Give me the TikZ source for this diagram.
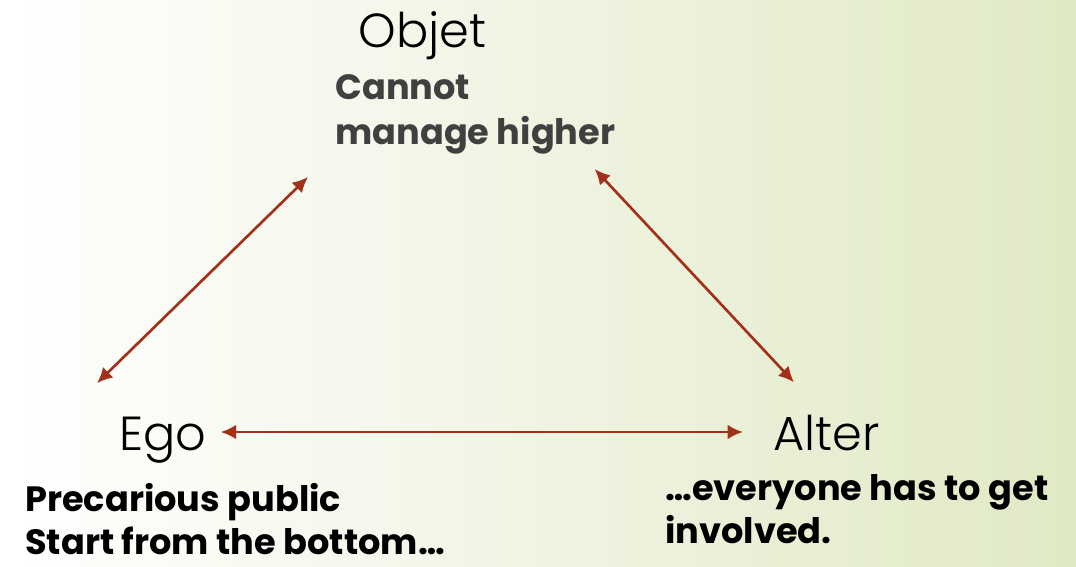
\documentclass[tikz,border=0pt]{standalone}
\usepackage{fontspec}
\usepackage{tikz}
\usetikzlibrary{arrows.meta}
\setmainfont{Poppins}
\newfontfamily\lightfont{Poppins Light}
\definecolor{FontColor}{HTML}{000000}
\definecolor{GrayFont}{HTML}{404040}
\definecolor{ArrowRed}{HTML}{A3311A}
\definecolor{BgGreen}{HTML}{E0E9C5}
\newcommand\nodeobjet{Objet}
\newcommand\nodeego{Ego}
\newcommand\nodealter{Alter}
\newcommand\notecannot{Cannot\\manage higher}
\newcommand\noteprec{Precarious public\\Start from the bottom…}
\newcommand\noteevery{…everyone has to get\\involved.}
\tikzstyle{mynodestyle} = [inner sep=0pt, anchor=base west, text=FontColor]
\tikzstyle{pole} = [mynodestyle, font=\lightfont\fontsize{34}{40}\selectfont]
\tikzstyle{note} = [mynodestyle, align=left, font=\bfseries\fontsize{25}{30}\selectfont]
\tikzset{>={Latex[length=11pt,width=10.5pt]}, every picture/.style={line width=1.9pt}}

\begin{document}
\begin{tikzpicture}[x=0.025cm, y=-0.025cm]
\fill[left color=white, right color=BgGreen] (0,0) rectangle (1076,566);
\node[pole] (objet) at (357,47) {\nodeobjet};
\node[pole] (ego) at (118,450) {\nodeego};
\node[pole] (alter) at (772,450) {\nodealter};
\node[note, text=GrayFont, font=\bfseries\fontsize{25}{31.3}\selectfont] (cannot) at (334,144) {\notecannot};
\node[note] (prec) at (24,554) {\noteprec};
\node[note] (every) at (664,543) {\noteevery};
\draw [<->, ArrowRed] ([shift={(-21,-32)}]ego.north west) -- ([shift={(-26,22)}]cannot.south west);
\draw [<->, ArrowRed] ([shift={(-22,14)}]cannot.south east) -- ([shift={(22,-31)}]alter.north west);
\draw [<->, ArrowRed] ([shift={(13,-18)}]ego.base east) -- ([shift={(-29,-18)}]alter.base west);
\end{tikzpicture}
\end{document}
